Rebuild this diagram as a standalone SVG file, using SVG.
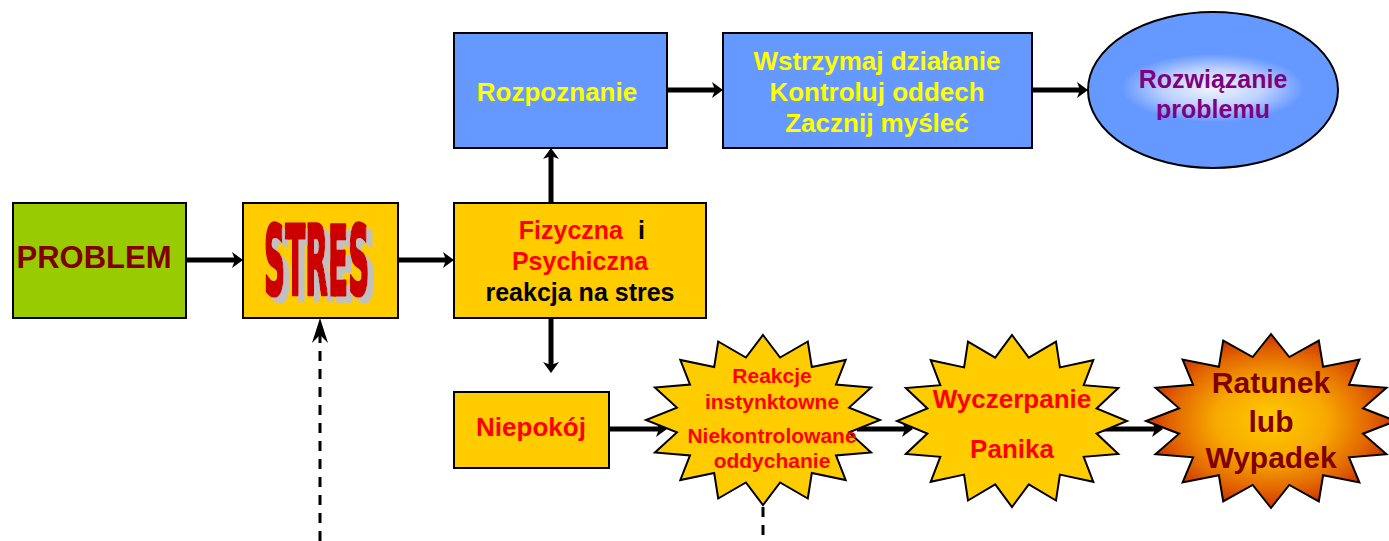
<svg xmlns="http://www.w3.org/2000/svg" width="1389" height="541" viewBox="0 0 1389 541">
<style>
.box{stroke:#000;stroke-width:2}
.yel{fill:#FFCC00}
.blue{fill:#6699FF}
.t{font-family:"Liberation Sans",Arial,sans-serif;font-weight:bold;text-anchor:middle}
.wa{font-family:"DejaVu Sans",sans-serif;font-weight:bold;font-size:44px;stroke-width:1.6;stroke-linejoin:round}
.conn{stroke:#000;stroke-width:5;fill:none;marker-end:url(#ah)}
.dash{stroke:#000;stroke-width:3;fill:none;stroke-dasharray:10 8}
</style>
<defs>
<marker id="ah" markerUnits="userSpaceOnUse" markerWidth="12" markerHeight="16" viewBox="0 0 12 16" refX="5" refY="8" orient="auto">
<path d="M0,0 L11,8 L0,16 L3,8 z" fill="#000"/>
</marker>
<marker id="ahd" markerUnits="userSpaceOnUse" markerWidth="26" markerHeight="16" viewBox="0 0 26 16" refX="10" refY="8" orient="auto">
<path d="M0,0 L25,8 L0,16 L8,8 z" fill="#000"/>
</marker>
<radialGradient id="boom" cx="0.5" cy="0.5" r="0.5">
<stop offset="0" stop-color="#FFCC00"/>
<stop offset="0.45" stop-color="#F7A800"/>
<stop offset="0.8" stop-color="#E26400"/>
<stop offset="1" stop-color="#CC3300"/>
</radialGradient>
<radialGradient id="glow" cx="0.5" cy="0.5" r="0.5">
<stop offset="0" stop-color="#FFFFFF"/>
<stop offset="0.55" stop-color="#C8D8FF"/>
<stop offset="1" stop-color="#6699FF"/>
</radialGradient>
<filter id="shadow" x="-20%" y="-20%" width="150%" height="150%">
<feFlood flood-color="#C0C0C0" result="g"/>
<feComposite in="g" in2="SourceAlpha" operator="in" result="s"/>
<feOffset in="s" dx="6" dy="6" result="o"/>
<feMerge><feMergeNode in="o"/><feMergeNode in="SourceGraphic"/></feMerge>
</filter>
<clipPath id="clipR"><rect x="1100" y="40" width="230" height="80"/></clipPath>
</defs>

<g id="connectors">
<path class="conn" d="M186,260 H237"/>
<path class="conn" d="M398,260 H448"/>
<path class="conn" d="M551,203 V154"/>
<path class="conn" d="M667,90 H717"/>
<path class="conn" d="M1032,90 H1082"/>
<path class="conn" d="M551,318 V367"/>
<path class="conn" d="M609,429 H661"/>
<path class="conn" d="M857,429 H907"/>
<path class="conn" d="M1100,429 H1157"/>
<path class="dash" d="M320,541 V333" marker-end="url(#ahd)"/>
<path class="dash" d="M763,507 V541" stroke-dasharray="10 5"/>
</g>

<g id="problem">
<rect class="box" x="13" y="203" width="173" height="115" fill="#99CC00"/>
<text class="t" x="94" y="268" font-size="31" fill="#800000">PROBLEM</text>
</g>

<g id="stres">
<rect class="box yel" x="243" y="203" width="155" height="115"/>
<g filter="url(#shadow)">
<text class="wa" transform="translate(264,295) scale(0.67,2.19)" fill="#CC0000" stroke="#CC0000">STRES</text>
</g>
</g>

<g id="reakcja">
<rect class="box yel" x="454" y="203" width="252" height="115"/>
<text class="t" x="623" y="239" font-size="25" fill="#FF0000" style="text-anchor:end">Fizyczna</text>
<text class="t" x="638" y="239" font-size="25" fill="#000" style="text-anchor:start">i</text>
<text class="t" x="580" y="270" font-size="25" fill="#FF0000">Psychiczna</text>
<text class="t" x="580" y="301" font-size="25" fill="#000">reakcja na stres</text>
</g>

<g id="rozpoznanie">
<rect class="box blue" x="454" y="33" width="213" height="115"/>
<text class="t" x="557" y="101" font-size="26" fill="#FFFF00">Rozpoznanie</text>
</g>

<g id="wstrzymaj">
<rect class="box blue" x="723" y="33" width="309" height="115"/>
<text class="t" x="877" y="70" font-size="26" fill="#FFFF00">Wstrzymaj działanie</text>
<text class="t" x="877" y="101" font-size="26" fill="#FFFF00">Kontroluj oddech</text>
<text class="t" x="877" y="132" font-size="26" fill="#FFFF00">Zacznij myśleć</text>
</g>

<g id="rozwiazanie">
<ellipse class="box blue" cx="1213" cy="90" rx="125" ry="78"/>
<rect x="1122" y="54" width="182" height="68" fill="url(#glow)" opacity="0.9"/>
<g clip-path="url(#clipR)">
<text class="t" x="1213" y="88" font-size="25" fill="#800080">Rozwiązanie</text>
<text class="t" x="1213" y="118" font-size="25" fill="#800080">problemu</text>
</g>
</g>

<g id="niepokoj">
<rect class="box yel" x="454" y="392" width="155" height="76"/>
<text class="t" x="531" y="436" font-size="26" fill="#FF0000">Niepokój</text>
</g>

<g id="reakcje">
<polygon class="box yel" points="763,335 780.1,357.5 807.8,341.5 811.8,367 845.7,359.9 836,384.6 871.1,387.5 849.1,407.6 880,420 849.1,432.4 871.1,452.5 836,455.4 845.7,480.1 811.8,473 807.8,498.5 780.1,482.5 763,505 745.9,482.5 718.2,498.5 714.2,473 680.3,480.1 690,455.4 654.9,452.5 676.9,432.4 646,420 676.9,407.6 654.9,387.5 690,384.6 680.3,359.9 714.2,367 718.2,341.5 745.9,357.5"/>
<text class="t" x="772" y="383" font-size="21" fill="#FF0000">Reakcje</text>
<text class="t" x="772" y="409" font-size="21" fill="#FF0000">instynktowne</text>
<text class="t" x="772" y="443" font-size="21" fill="#FF0000">Niekontrolowane</text>
<text class="t" x="772" y="468" font-size="21" fill="#FF0000">oddychanie</text>
</g>

<g id="wyczerpanie">
<polygon class="box yel" points="1012,335 1028.8,357.7 1056,341.6 1059.9,367.4 1093.3,360.2 1083.7,385.2 1118.3,388.1 1096.6,408.4 1127,421 1096.6,433.6 1118.3,453.9 1083.7,456.8 1093.3,481.8 1059.9,474.6 1056,500.5 1028.8,484.3 1012,507 995.2,484.3 968,500.5 964.1,474.6 930.7,481.8 940.3,456.8 905.8,453.9 927.4,433.6 897,421 927.4,408.4 905.8,388.1 940.3,385.2 930.7,360.2 964.1,367.4 968,341.6 995.2,357.7"/>
<text class="t" x="1012" y="408" font-size="26" fill="#FF0000">Wyczerpanie</text>
<text class="t" x="1012" y="458" font-size="26" fill="#FF0000">Panika</text>
</g>

<g id="ratunek">
<polygon class="box" fill="url(#boom)" points="1271,334 1289.3,357 1318.8,340.6 1323.1,366.8 1359.4,359.5 1349,384.8 1386.5,387.7 1363,408.3 1396,421 1363,433.7 1386.5,454.3 1349,457.3 1359.4,482.5 1323.1,475.3 1318.8,501.4 1289.3,485 1271,508 1252.7,485 1223.2,501.4 1218.9,475.3 1182.6,482.5 1193.1,457.3 1155.5,454.3 1179.1,433.7 1146,421 1179.1,408.3 1155.5,387.7 1193.1,384.8 1182.6,359.5 1218.9,366.8 1223.2,340.6 1252.7,357"/>
<text class="t" x="1271" y="393" font-size="30" fill="#800000">Ratunek</text>
<text class="t" x="1271" y="432" font-size="30" fill="#800000">lub</text>
<text class="t" x="1271" y="468" font-size="30" fill="#800000">Wypadek</text>
</g>
</svg>
